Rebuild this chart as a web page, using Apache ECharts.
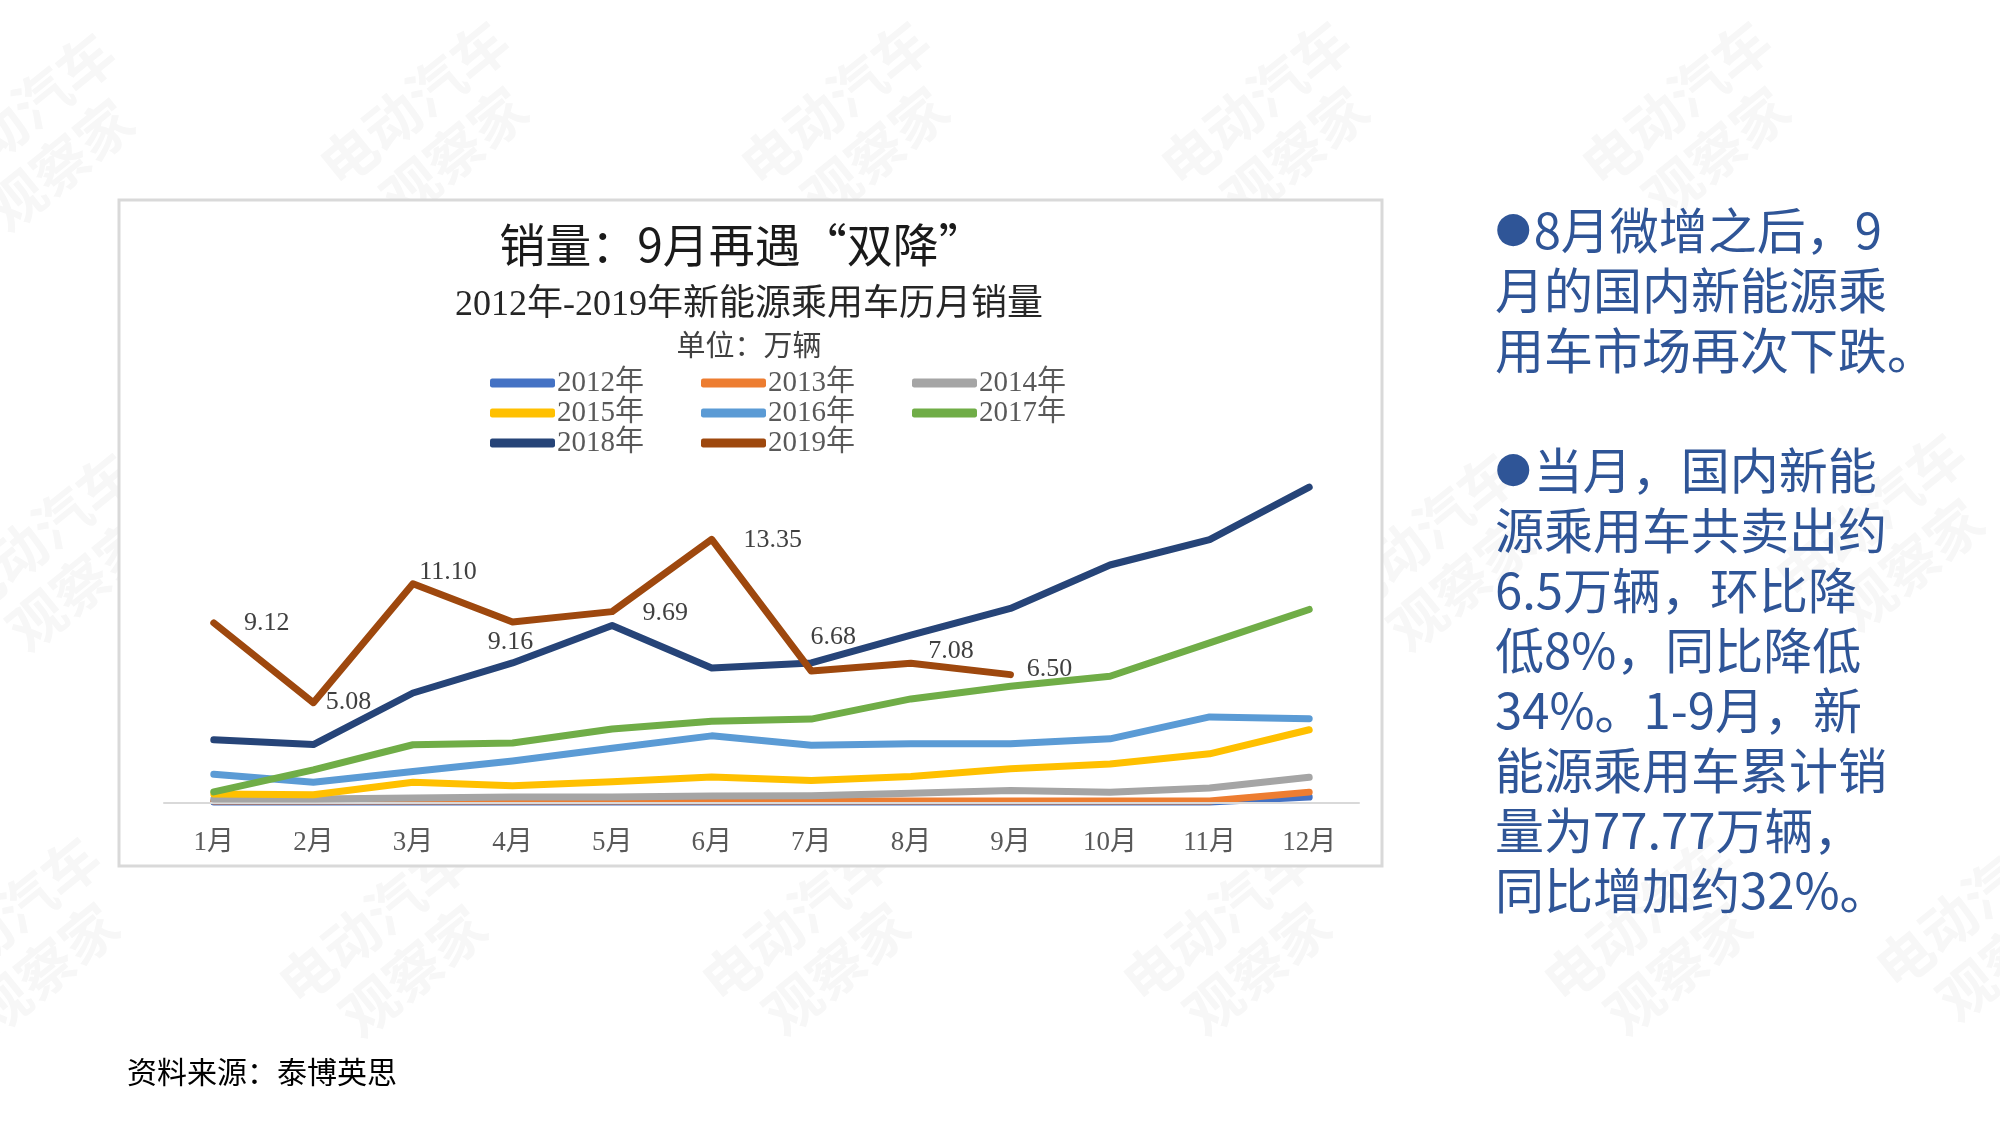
<!DOCTYPE html>
<html>
<head>
<meta charset="utf-8">
<script src="https://cdn.jsdelivr.net/npm/echarts@6/dist/echarts.min.js"></script>
<style>
html,body{margin:0;padding:0;background:#fff;}
#c{width:2000px;height:1126px;}
</style>
</head>
<body>
<div id="c"></div>
<script>
// ---- data ----
const months = ['1月','2月','3月','4月','5月','6月','7月','8月','9月','10月','11月','12月'];
const years = ['2012年','2013年','2014年','2015年','2016年','2017年','2018年','2019年'];
const s2012 = [0.05,0.05,0.05,0.05,0.05,0.05,0.05,0.05,0.05,0.05,0.05,0.30];
const s2013 = [0.10,0.10,0.10,0.10,0.10,0.10,0.10,0.10,0.10,0.10,0.10,0.55];
const s2014 = [0.20,0.20,0.25,0.30,0.30,0.35,0.37,0.49,0.63,0.54,0.76,1.30];
const s2015 = [0.45,0.42,1.05,0.87,1.08,1.32,1.14,1.34,1.73,1.98,2.49,3.71];
const s2016 = [1.45,1.05,1.59,2.13,2.77,3.40,2.92,3.00,3.00,3.25,4.36,4.27];
const s2017 = [0.56,1.68,2.95,3.04,3.75,4.14,4.25,5.27,5.91,6.42,8.11,9.80];
const s2018 = [3.20,2.96,5.57,7.09,8.99,6.84,7.09,8.50,9.85,12.05,13.34,15.99];
const s2019 = [9.12,5.08,11.10,9.16,9.69,13.35,6.68,7.08,6.50];
const titleText = '销量：9月再遇“双降”';
const subtitleText = '2012年-2019年新能源乘用车历月销量';
const unitText = '单位：万辆';
const sourceText = '资料来源：泰博英思';
const noteLines = [
  '●8月微增之后，9',
  '月的国内新能源乘',
  '用车市场再次下跌。',
  '',
  '●当月，国内新能',
  '源乘用车共卖出约',
  '6.5万辆，环比降',
  '低8%，同比降低',
  '34%。1-9月，新',
  '能源乘用车累计销',
  '量为77.77万辆，',
  '同比增加约32%。'
];
const watermarkText = '电动汽车\n观察家';

// ---- styling / layout (not data) ----
const colors = ['#4472C4','#ED7D31','#A5A5A5','#FFC000','#5B9BD5','#70AD47','#264478','#9E480E'];
const seriesValues = [s2012,s2013,s2014,s2015,s2016,s2017,s2018,s2019];
const labelOffsets = [[53,0],[35,0],[35,-12],[-2,20],[53,2],[61,1],[22,-34],[40,-12],[39,-5]];
const serifCJK = '"Liberation Serif","Noto Sans CJK SC"';
const sansCJK = '"Noto Sans CJK SC"';

const series = seriesValues.map((vals, i) => {
  const isLast = i === seriesValues.length - 1;
  return {
    name: years[i],
    type: 'line',
    z: 3 + i,
    data: isLast ? vals.map((v, k) => ({ value: v, label: { offset: labelOffsets[k] } })) : vals,
    symbol: 'circle',
    symbolSize: 1,
    showSymbol: isLast,
    lineStyle: { width: 7, color: colors[i], cap: 'round', join: 'round' },
    itemStyle: { color: colors[i] },
    label: isLast ? {
      show: true,
      position: 'inside',
      fontSize: 26,
      fontFamily: '"Liberation Serif"',
      color: '#404040',
      formatter: p => Number(p.value).toFixed(2)
    } : { show: false },
    emphasis: { disabled: true },
    animation: false
  };
});

const legendCommon = {
  orient: 'vertical',
  top: 368,
  padding: 0,
  itemGap: 0,
  itemWidth: 65,
  itemHeight: 9,
  icon: 'roundRect',
  textStyle: { fontSize: 29, color: '#595959', fontFamily: serifCJK, lineHeight: 30, padding: [0,0,0,-3] },
  selectedMode: false
};

const wmPos = [[40,140],[434,128],[855,128],[1275,128],[1696,128],[60,560],[1441,560],[1890,540],[25,944],[393,946],[816,944],[1237,944],[1658,944],[1990,930]];
const graphics = [];
wmPos.forEach(p => graphics.push({
  type: 'text', x: p[0], y: p[1], rotation: 0.68, z: -2, zlevel: 0, silent: true,
  style: { text: watermarkText, fill: '#f7f7f7', font: 'bold 56px ' + sansCJK, textAlign: 'center', textVerticalAlign: 'middle', lineHeight: 64 }
}));
graphics.push({
  type: 'rect', z: -1, silent: true,
  shape: { x: 119, y: 200, width: 1263, height: 666 },
  style: { fill: '#ffffff', stroke: '#d9d9d9', lineWidth: 3 }
});
graphics.push({ type: 'text', x: 742, y: 245, z: 10, style: { text: titleText, font: '46px ' + sansCJK, fill: '#1a1a1a', textAlign: 'center', textVerticalAlign: 'middle' } });
graphics.push({ type: 'text', x: 749, y: 306, z: 10, style: { text: subtitleText, font: '36px ' + serifCJK, fill: '#262626', textAlign: 'center', textVerticalAlign: 'middle' } });
graphics.push({ type: 'text', x: 749, y: 348, z: 10, style: { text: unitText, font: '29px ' + serifCJK, fill: '#404040', textAlign: 'center', textVerticalAlign: 'middle' } });
graphics.push({ type: 'text', x: 127, y: 1072, z: 10, style: { text: sourceText, font: '30px ' + sansCJK, fill: '#000', textAlign: 'left', textVerticalAlign: 'middle' } });
noteLines.forEach((t, i) => {
  if (!t) return;
  const hasBullet = t.charAt(0) === '●';
  const txt = hasBullet ? '{b|●}' + t.slice(1) : t;
  graphics.push({ type: 'text', x: 1495, y: 230 + i * 60, z: 10, style: {
    text: txt, font: '49px ' + sansCJK, fill: '#2F5597', textAlign: 'left', textVerticalAlign: 'middle',
    rich: { b: { fontSize: 42, fontFamily: 'DejaVu Sans', fill: '#2F5597', padding: [0, 2, 0, 0] } }
  } });
});

const chart = echarts.init(document.getElementById('c'), null, { renderer: 'canvas' });
chart.setOption({
  animation: false,
  backgroundColor: '#ffffff',
  color: colors,
  grid: { left: 164, right: 641, top: 447.5, bottom: 323, containLabel: false },
  xAxis: {
    type: 'category',
    data: months,
    boundaryGap: true,
    z: 5,
    axisLine: { show: true, lineStyle: { color: '#d9d9d9', width: 2 } },
    axisTick: { show: false },
    axisLabel: { margin: 26, fontSize: 27, color: '#595959', fontFamily: serifCJK, interval: 0 },
    splitLine: { show: false }
  },
  yAxis: {
    type: 'value', min: 0, max: 18, show: false, splitLine: { show: false }
  },
  legend: [
    Object.assign({}, legendCommon, { left: 490, data: [years[0], years[3], years[6]] }),
    Object.assign({}, legendCommon, { left: 701, data: [years[1], years[4], years[7]] }),
    Object.assign({}, legendCommon, { left: 912, data: [years[2], years[5]] })
  ],
  graphic: { elements: graphics },
  series: series
});
</script>
</body>
</html>
